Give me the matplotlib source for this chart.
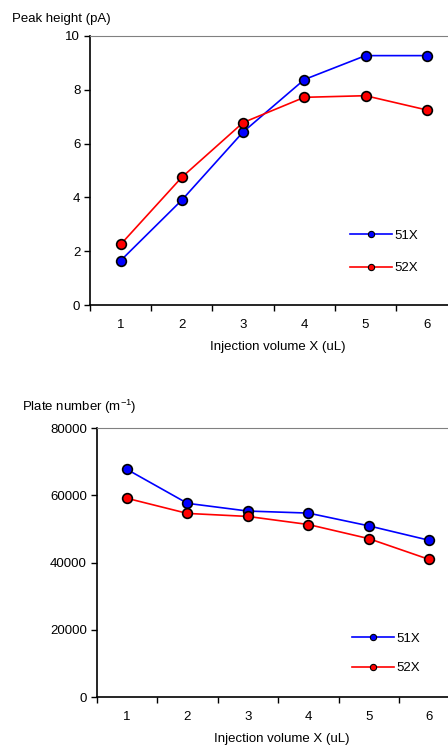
import matplotlib.pyplot as plt
from matplotlib.lines import Line2D

plt.rcParams["font.family"] = ["Liberation Sans", "DejaVu Sans"]
plt.rcParams["font.size"] = 9.5

volumes = ["1", "2", "3", "4", "5", "6"]

# Peak height (pA)
peak_51x = [1.65, 3.90, 6.43, 8.38, 9.27, 9.27]
peak_52x = [2.25, 4.75, 6.78, 7.72, 7.78, 7.25]

# Plate number (m^-1)
plate_51x = [67700, 57600, 55300, 54700, 50900, 46600]
plate_52x = [59100, 54600, 53700, 51300, 47100, 40900]

series_names = ["51X", "52X"]
colors = ["#0000ff", "#ff0000"]


def style_axes(ax, ymax, ystep):
    x = range(len(volumes))
    ax.set_xlim(-0.5, len(volumes) - 0.5)
    ax.set_ylim(0, ymax)
    ax.set_yticks(range(0, ymax + 1, ystep))
    ax.set_xticks(list(x))
    ax.set_xticklabels(volumes)
    ax.set_xticks([i - 0.5 for i in range(len(volumes) + 1)], minor=True)
    ax.tick_params(axis="x", which="major", length=0, pad=10)
    ax.tick_params(axis="x", which="minor", length=4, width=1, direction="out")
    ax.tick_params(axis="y", length=4, width=1, direction="out", pad=3)
    ax.spines["right"].set_visible(False)
    ax.spines["top"].set_color("#808080")
    ax.spines["left"].set_linewidth(1.2)
    ax.spines["bottom"].set_linewidth(1.2)


def draw(ax, ys, anchor, spacing):
    for vals, name, c in zip(ys, series_names, colors):
        ax.plot(range(len(volumes)), vals, color=c, lw=1.2, marker="o",
                ms=7, mfc=c, mec="black", mew=1.2, label=name, clip_on=False)
    handles = [Line2D([], [], color=c, lw=1.2, marker="o", ms=4.5, mfc=c,
                      mec="black", mew=0.8) for c in colors]
    ax.legend(handles, series_names, frameon=False, loc="lower left",
              bbox_to_anchor=anchor, handlelength=3.2, labelspacing=spacing,
              handletextpad=0.15, fontsize=9.5)


fig = plt.figure(figsize=(4.48, 7.45), dpi=100)

ax1 = fig.add_axes([0.2009, 0.5906, 0.82, 0.3611])
draw(ax1, [peak_51x, peak_52x], (0.676, 0.07), 1.55)
style_axes(ax1, 10, 2)
ax1.text(-0.2125, 1.063, "Peak height (pA)", transform=ax1.transAxes,
         ha="left", va="center")
ax1.text(0.51, -0.155, "Injection volume X (uL)", transform=ax1.transAxes,
         ha="center", va="center")

ax2 = fig.add_axes([0.2158, 0.0644, 0.81, 0.3611])
draw(ax2, [plate_51x, plate_52x], (0.671, 0.04), 1.3)
style_axes(ax2, 80000, 20000)
ax2.text(-0.206, 1.078, r"Plate number (m$^{\mathregular{-1}}$)",
         transform=ax2.transAxes, ha="left", va="center")
ax2.text(0.51, -0.155, "Injection volume X (uL)", transform=ax2.transAxes,
         ha="center", va="center")

fig.savefig("out.png", dpi=100)
